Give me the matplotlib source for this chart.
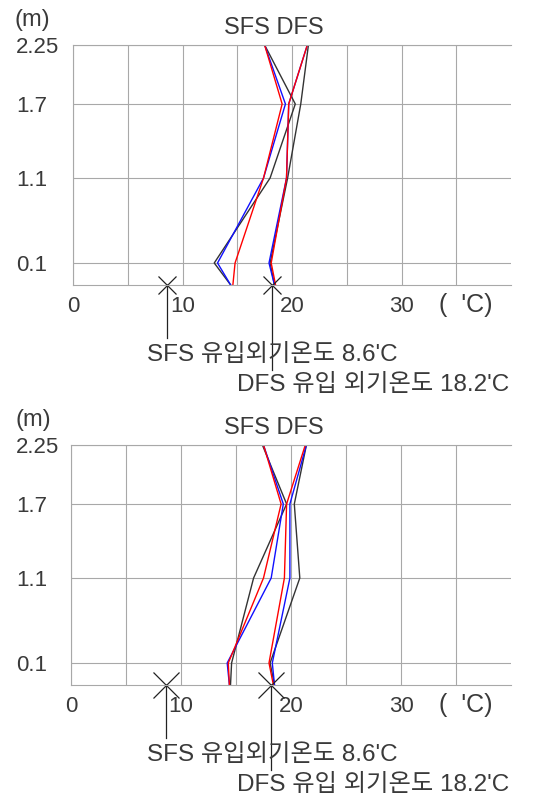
import numpy as np
import matplotlib
matplotlib.use("Agg")
import matplotlib.pyplot as plt

plt.rcParams['font.family'] = ['Liberation Sans', 'Noto Sans CJK KR', 'DejaVu Sans']

# ---------------- data ----------------
heights = [0.0, 0.1, 1.1, 1.7, 2.25]          # measurement heights (m)
height_ticks = [0.1, 1.1, 1.7, 2.25]
height_labels = ["0.1", "1.1", "1.7", "2.25"]
temp_ticks = [0, 10, 20, 30]
temp_labels = ["0", "10", "20", "30"]

# top panel
top_sfs_red = [14.6, 14.8, 17.4, 19.1, 17.5]
top_sfs_blue = [14.4, 13.2, 17.4, 19.4, 17.5]
top_sfs_black = [14.4, 12.9, 18.0, 20.3, 17.5]
top_dfs_red = [18.5, 18.1, 19.5, 19.7, 21.4]
top_dfs_blue = [18.4, 17.9, 19.5, 19.7, 21.4]
top_dfs_black = [18.4, 18.0, 19.6, 20.8, 21.5]

# bottom panel
bot_sfs_red = [14.4, 14.3, 17.5, 19.1, 17.5]
bot_sfs_blue = [14.4, 14.2, 18.2, 19.3, 17.5]
bot_sfs_black = [14.5, 14.6, 16.6, 19.6, 17.4]
bot_dfs_red = [18.4, 18.0, 19.4, 19.6, 21.3]
bot_dfs_blue = [18.5, 18.3, 19.9, 19.9, 21.4]
bot_dfs_black = [18.5, 18.1, 20.8, 20.3, 21.4]

sfs_inflow = 8.6
dfs_inflow = 18.2
sfs_text = "SFS 유입외기온도 8.6'C"
dfs_text = "DFS 유입 외기온도 18.2'C"
title_text = "SFS DFS"
unit_y = "(m)"
unit_x = "(  'C)"

# non-linear height axis (as drawn in the original)
axis_levels = [0.0, 0.1, 1.1, 1.7, 2.25]
axis_pos = [0.0, 22.0, 107.0, 181.0, 240.0]


def fwd(h):
    return np.interp(h, axis_levels, axis_pos)


def inv(p):
    return np.interp(p, axis_pos, axis_levels)


GRID = '#a8a8a8'
TXT = '#3a3a3a'
RED = '#ff0000'
BLUE = '#1010ff'
BLACK = '#333333'
LAT = 'Liberation Sans'
FAM = ['Liberation Sans', 'Noto Sans CJK KR', 'DejaVu Sans']

W, H = 549, 797
fig = plt.figure(figsize=(W / 100, H / 100), dpi=100)


def make_panel(left_px, top_px, right_px, bottom_px, series, msize):
    ax = fig.add_axes([left_px / W, 1 - bottom_px / H,
                       (right_px - left_px) / W, (bottom_px - top_px) / H])
    ax.set_yscale('function', functions=(fwd, inv))
    ax.set_xlim(0, 40)
    ax.set_ylim(0, 2.25)
    ax.set_xticks(np.arange(5, 40, 5), minor=True)
    ax.set_xticks(temp_ticks)
    ax.set_xticklabels(temp_labels, fontfamily=LAT)
    ax.set_yticks(height_ticks)
    ax.set_yticklabels(height_labels, fontfamily=LAT)
    ax.set_yticks([], minor=True)
    ax.grid(True, which='both', axis='x', color=GRID, lw=0.8)
    ax.grid(True, which='major', axis='y', color=GRID, lw=0.8)
    ax.tick_params(which='both', length=0, labelsize=16, labelcolor=TXT)
    ax.tick_params(axis='x', pad=8)
    ax.tick_params(axis='y', pad=(left_px - 16) * 0.72)
    for lab in ax.get_yticklabels():
        lab.set_horizontalalignment('left')
    ax.spines['right'].set_visible(False)
    for s in ['left', 'bottom', 'top']:
        ax.spines[s].set_color(GRID)
        ax.spines[s].set_linewidth(0.8)

    for vals, col in series:
        ax.plot(vals, heights, color=col, lw=1.0)

    width = right_px - left_px
    span = bottom_px - top_px
    ax.text((15 - left_px) / width, 1 + 25 / span, unit_y,
            transform=ax.transAxes, ha='left', va='center', fontsize=17,
            color=TXT, family=LAT)
    ax.text((274 - left_px) / width, 1 + 17 / span, title_text,
            transform=ax.transAxes, ha='center', va='center',
            fontsize=17, color=TXT, family=LAT)
    ax.text(35.9, -20 / span, unit_x, transform=ax.get_xaxis_transform(),
            ha='center', va='center', fontsize=18, color=TXT, family=LAT)

    xt = ax.get_xaxis_transform()
    for t in (sfs_inflow, dfs_inflow):
        ax.plot([t], [0], marker='x', ms=msize, mew=0.9, color='#222222',
                transform=xt, clip_on=False)
    ax.plot([sfs_inflow, sfs_inflow], [0, -0.221], color='#222222', lw=0.9,
            transform=xt, clip_on=False)
    ax.plot([dfs_inflow, dfs_inflow], [0, -0.354], color='#222222', lw=0.9,
            transform=xt, clip_on=False)
    ax.text((147 - left_px) / width, -0.292, sfs_text, transform=ax.transAxes,
            ha='left', va='center', fontsize=17.5, color=TXT, family=FAM)
    ax.text((237 - left_px) / width, -0.417, dfs_text, transform=ax.transAxes,
            ha='left', va='center', fontsize=17.5, color=TXT, family=FAM)
    return ax


top_series = [(top_sfs_black, BLACK), (top_sfs_blue, BLUE), (top_sfs_red, RED),
              (top_dfs_black, BLACK), (top_dfs_blue, BLUE), (top_dfs_red, RED)]
bot_series = [(bot_sfs_black, BLACK), (bot_sfs_blue, BLUE), (bot_sfs_red, RED),
              (bot_dfs_black, BLACK), (bot_dfs_blue, BLUE), (bot_dfs_red, RED)]

make_panel(73, 45, 511, 285, top_series, 13)
make_panel(71, 445, 511, 685, bot_series, 19)

fig.savefig("out.png", dpi=100, facecolor='white')
